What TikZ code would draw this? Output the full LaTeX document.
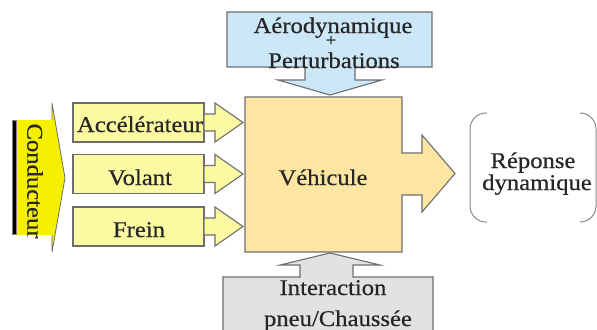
\documentclass[tikz,border=0pt]{standalone}
\usepackage{fontspec}
\setmainfont{Liberation Serif}[FakeStretch=1.1, FakeBold=0.5]
\definecolor{txt}{HTML}{262626}
\definecolor{edgegray}{HTML}{6E6E6E}
\definecolor{aero}{HTML}{CCE8F8}
\definecolor{veh}{HTML}{FDE6A2}
\definecolor{inbox}{HTML}{FBFAA2}
\definecolor{ground}{HTML}{E2E2E2}
\definecolor{condy}{HTML}{F4F000}
\definecolor{brk}{HTML}{8A8A8A}
\begin{document}
\begin{tikzpicture}[x=1bp,y=-1bp,
  lbl/.style={font=\fontsize{22.5}{24}\selectfont, text=txt, inner sep=0pt},
  small/.style={font=\fontsize{17}{18}\selectfont, text=txt, inner sep=0pt},
  block/.style={draw=edgegray, line width=1.1bp, line join=miter},
  inbox/.style={block, fill=inbox, minimum width=131bp, minimum height=39bp, inner sep=0pt},
  bracket/.style={draw=brk, line width=1bp, rounded corners=16bp}]
\useasboundingbox (0,0) rectangle (597,329);
\fill[white] (0,0) rectangle (597,329);

% upper input: aerodynamics block with its downward arrow
\path[block, fill=aero] (227,12) -- (432,12) -- (432,67) -- (355,67) -- (355,80)
  -- (382,80) -- (330,95) -- (278,80) -- (305,80) -- (305,67) -- (227,67) -- cycle;

% lower input: tyre/road block with its upward arrow
\begin{scope}
\clip (0,0) rectangle (597,329);
\path[block, fill=ground] (223,335) -- (223,277) -- (300,277) -- (300,265) -- (280,265)
  -- (330,253) -- (380,265) -- (353,265) -- (353,277) -- (433,277) -- (433,335);
\end{scope}

% vehicle block with its output arrow
\path[block, fill=veh] (245,97) -- (402,97) -- (402,153) -- (422,153) -- (422,135)
  -- (455,173.5) -- (422,212) -- (422,195) -- (402,195) -- (402,252) -- (245,252) -- cycle;

% driver arrow
\fill[condy] (17,120) -- (52,120) -- (52,103) -- (65,178) -- (52,252) -- (52,235) -- (17,235) -- cycle;
\draw[edgegray, line width=0.8bp] (52,120) -- (52,103) -- (65,178) -- (52,252) -- (52,235);
\draw[fill=black, draw=gray, line width=0.8bp] (12.5,120) rectangle (16.5,234);
\node[lbl, rotate=-90] (cond) at (35,181) {Conducteur};

% driver commands
\foreach \n/\c in {acc/122.5, vol/174, frein/226.5}{
  \node[inbox] (\n) at (138.5,\c) {};
  \path[block, fill=inbox] (204,\c-8.5) -- (215,\c-8.5) -- (215,\c-19.5) -- (243,\c)
    -- (215,\c+19.5) -- (215,\c+8.5) -- (204,\c+8.5) -- cycle;
}
\node[lbl, anchor=base] (tacc) at (140,132) {Accélérateur};
\node[lbl, anchor=base] (tvol) at (140,185) {Volant};
\node[lbl, anchor=base] (tfrein) at (139,237) {Frein};

% block labels
\node[lbl, anchor=base] (taero) at (333,33) {Aérodynamique};
\node[small] (tplus) at (331,41) {+};
\node[lbl, anchor=base] (tpert) at (334,68) {Perturbations};
\node[lbl, anchor=base] (tveh) at (323,185) {Véhicule};
\node[lbl, anchor=base] (tint) at (333,295) {Interaction};
\node[lbl, anchor=base] (tpneu) at (338,326) {pneu/Chaussée};

% dynamic response
\draw[bracket] (487,113) -- (470,113) -- (470,222) -- (487,222);
\draw[bracket] (580,113) -- (596,113) -- (596,222) -- (580,222);
\node[lbl, anchor=base] (trep) at (533,168) {Réponse};
\node[lbl, anchor=base] (tdyn) at (537,190) {dynamique};
\end{tikzpicture}
\end{document}
